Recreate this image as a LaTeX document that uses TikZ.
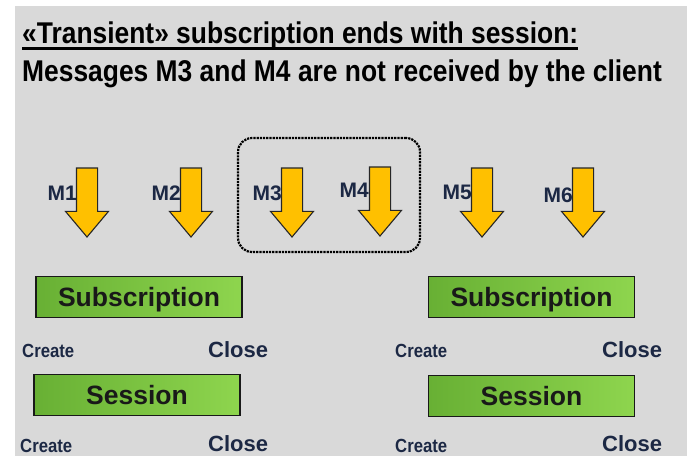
\documentclass[tikz,border=0pt]{standalone}
\usepackage{fontspec}
\setmainfont{Liberation Sans}
\newfontfamily\narrowfont{Liberation Sans}[FakeStretch=0.88]
\usetikzlibrary{shapes.arrows}
\definecolor{bg}{HTML}{D9D9D9}
\definecolor{gold}{HTML}{FFC000}
\definecolor{lbl}{HTML}{1C2844}
\definecolor{gdark}{HTML}{68B034}
\definecolor{glight}{HTML}{8ED54E}
\begin{document}
\begin{tikzpicture}[x=1pt,y=-1pt,
  titletext/.style={anchor=base west, inner sep=0pt, text=black,
    font=\narrowfont\bfseries\fontsize{30}{30}\selectfont},
  msgarrow/.style={single arrow, draw=black!85, line width=1.1pt, fill=gold,
    minimum height=69pt, inner xsep=0pt, inner ysep=10pt, outer sep=0pt,
    single arrow head extend=11pt, single arrow tip angle=80, rotate=-90,
    anchor=tail},
  mlabel/.style={anchor=east, inner sep=0pt, text=lbl,
    font=\bfseries\fontsize{21}{21}\selectfont},
  groupbox/.style={draw=black, densely dotted, line width=2.2pt, rounded corners=14pt,
    minimum width=182pt, minimum height=114pt, inner sep=0pt},
  greenbox/.style={draw=black!90, line width=1.6pt, left color=gdark, right color=glight,
    minimum width=206pt, minimum height=41pt, inner sep=0pt, text=black!90,
    text height=19pt, text depth=0pt,
    font=\bfseries\fontsize{26.5}{26.5}\selectfont},
  createlbl/.style={anchor=base west, inner sep=0pt, text=lbl,
    font=\narrowfont\bfseries\fontsize{19}{19}\selectfont},
  closelbl/.style={anchor=base west, inner sep=0pt, text=lbl,
    font=\bfseries\fontsize{22}{22}\selectfont}]
\useasboundingbox (0,0) rectangle (687,456);
\fill[white] (0,0) rectangle (687,456);
\fill[bg] (15,6) rectangle (687,456);
% titles
\node[titletext] (title) at (22,43) {«Transient» subscription ends with session:};
\draw[line width=3pt] ([yshift=-5pt]title.base west) -- ([yshift=-5pt]title.base east);
\node[titletext] (subtitle) at (22,81) {Messages M3 and M4 are not received by the client};
% group of lost messages
\node[groupbox] (grp) at (329,195) {};
% message arrows
\node[msgarrow] (a1) at (87,168) {};
\node[msgarrow] (a2) at (191,168) {};
\node[msgarrow] (a3) at (292,168) {};
\node[msgarrow] (a4) at (380,167) {};
\node[msgarrow] (a5) at (482,168) {};
\node[msgarrow] (a6) at (583,168) {};
\node[mlabel] (m1) at (77,193) {M1};
\node[mlabel] (m2) at (181,193) {M2};
\node[mlabel] (m3) at (282,193) {M3};
\node[mlabel] (m4) at (369,190) {M4};
\node[mlabel] (m5) at (472,192) {M5};
\node[mlabel] (m6) at (573,195) {M6};
% left lifecycle
\node[greenbox] (sub1) at (139,297) {Subscription};
\node[createlbl] (cr1) at (22,357) {Create};
\node[closelbl] (cl1) at (208,357) {Close};
\node[greenbox] (ses1) at (137,395) {Session};
\node[createlbl] (cr2) at (20,452) {Create};
\node[closelbl] (cl2) at (208,451.5) {Close};
% right lifecycle
\node[greenbox] (sub2) at (531.5,297) {Subscription};
\node[createlbl] (cr3) at (395,357) {Create};
\node[closelbl] (cl3) at (602,357) {Close};
\node[greenbox] (ses2) at (531.5,396) {Session};
\node[createlbl] (cr4) at (395,452) {Create};
\node[closelbl] (cl4) at (602,451.5) {Close};
\end{tikzpicture}
\end{document}
